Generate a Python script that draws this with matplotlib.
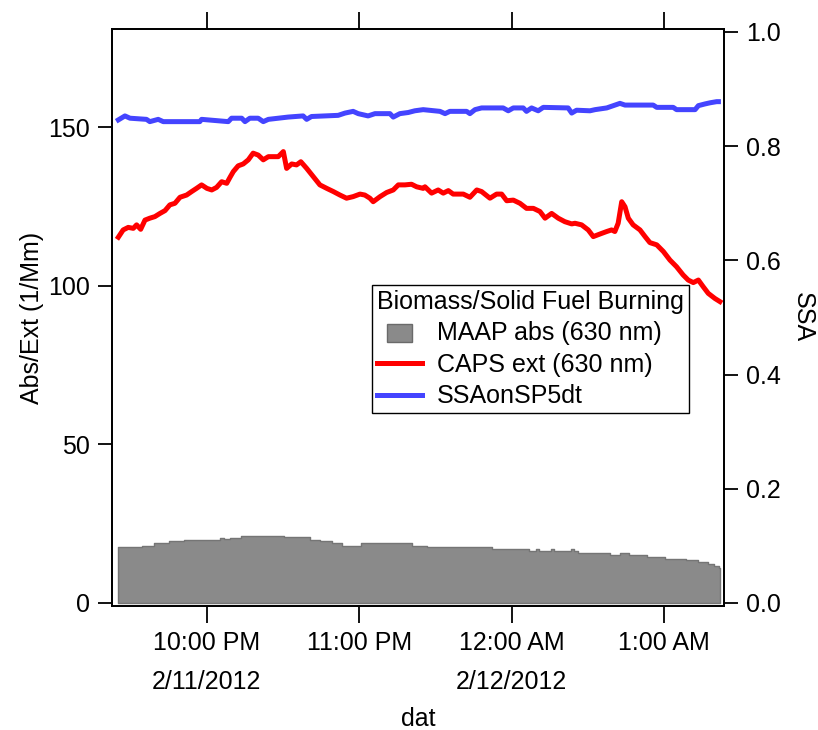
import numpy as np
import pandas as pd
import matplotlib
matplotlib.use('Agg')
import matplotlib.pyplot as plt
from matplotlib.patches import Rectangle, Patch
from matplotlib.lines import Line2D
from matplotlib.legend_handler import HandlerPatch

plt.rcParams['font.family'] = ['Liberation Sans', 'DejaVu Sans']
plt.rcParams['font.size'] = 18

t0 = pd.Timestamp('2012-02-11 21:00')

# MAAP absorption (1/Mm), step data, times in minutes after 9 PM
maap_min = [25.1, 34.4, 39.1, 45.0, 50.9, 65.1, 66.9, 69.0, 73.4, 90.3,
            100.6, 104.5, 109.3, 113.2, 120.7, 140.8, 146.7, 172.3, 186.9, 189.6,
            190.8, 195.5, 196.7, 203.6, 204.8, 206.2, 218.8, 222.7, 226.3, 233.4,
            240.5, 248.7, 253.5, 257.5, 259.8, 261.7, 262.1]
maap_abs = [17.5, 18.1, 18.8, 19.4, 19.9, 20.5, 20.1, 20.5, 21.2, 20.8,
            20.0, 19.4, 18.9, 18.1, 18.9, 18.1, 17.5, 17.0, 16.4, 17.0,
            16.4, 17.0, 16.4, 17.0, 16.4, 15.9, 15.1, 15.9, 15.1, 14.6,
            14.0, 13.4, 12.8, 12.2, 11.5, 10.9, 10.9]

# CAPS extinction (1/Mm)
caps_min = [25.1, 27.0, 29.0, 31.0, 32.3, 33.9, 35.6, 37.5, 39.5, 41.5,
            43.5, 45.4, 47.4, 49.4, 52.0, 54.0, 55.9, 57.9, 60.0, 61.9,
            63.8, 65.8, 67.8, 69.1, 70.4, 72.3, 74.3, 76.3, 78.2, 80.2,
            82.2, 84.2, 85.5, 88.1, 90.1, 91.4, 93.4, 95.3, 97.0, 99.3,
            101.9, 104.5, 107.2, 109.8, 112.4, 115.0, 117.6, 120.3, 122.2, 124.2,
            125.5, 128.2, 130.8, 133.4, 135.4, 138.0, 140.6, 142.6, 145.2, 145.9,
            148.5, 151.1, 153.1, 155.1, 157.0, 161.0, 163.6, 166.3, 168.2, 171.5,
            174.1, 176.1, 178.1, 180.7, 183.3, 185.9, 188.6, 191.2, 193.2, 195.8,
            198.4, 201.0, 203.7, 205.0, 207.6, 210.2, 212.2, 214.8, 217.5, 219.4,
            220.7, 222.0, 223.4, 224.7, 226.0, 227.9, 230.6, 232.6, 234.5, 237.2,
            239.8, 242.4, 245.0, 247.6, 249.6, 251.6, 253.6, 255.5, 257.5, 260.1,
            262.1]
caps_ext = [115.3, 117.6, 118.4, 118.1, 119.2, 117.8, 120.7, 121.3, 121.8, 122.8,
            123.7, 125.5, 126.0, 127.9, 128.6, 129.7, 130.7, 131.8, 130.7, 130.2,
            131.0, 132.8, 132.3, 134.2, 136.0, 137.8, 138.4, 139.7, 141.8, 141.2,
            139.7, 140.7, 140.7, 140.7, 142.3, 137.0, 138.4, 138.1, 139.1, 137.0,
            134.4, 131.8, 130.7, 129.7, 128.6, 127.6, 128.1, 128.9, 128.6, 127.6,
            126.5, 128.1, 129.4, 130.2, 131.8, 131.8, 132.0, 131.2, 130.7, 131.2,
            129.2, 130.2, 129.2, 130.0, 128.9, 128.9, 127.9, 130.2, 129.7, 127.6,
            128.9, 128.9, 126.8, 127.0, 126.0, 124.4, 124.4, 123.4, 121.3, 122.8,
            121.3, 120.2, 119.5, 119.7, 119.2, 117.6, 115.5, 116.3, 117.1, 117.6,
            117.1, 119.7, 126.5, 124.9, 121.3, 119.2, 117.6, 115.5, 113.6, 112.9,
            110.8, 108.1, 106.0, 103.4, 101.8, 101.0, 101.8, 99.7, 97.6, 96.0,
            95.0]

# single scattering albedo (right axis)
ssa_min = [25.1, 27.7, 29.7, 36.2, 37.5, 40.8, 42.8, 57.2, 57.9, 68.4,
           69.7, 73.7, 75.0, 76.9, 80.2, 82.2, 84.2, 88.1, 92.0, 97.9,
           99.3, 101.2, 111.7, 114.4, 117.6, 119.6, 123.5, 126.2, 132.1, 133.4,
           136.0, 139.3, 141.9, 145.2, 151.8, 153.8, 155.7, 162.3, 163.6, 165.6,
           168.2, 176.7, 178.7, 180.7, 184.6, 185.9, 187.9, 190.5, 192.5, 202.3,
           203.7, 205.6, 210.9, 212.9, 217.5, 220.1, 222.7, 224.7, 235.8, 237.2,
           243.7, 245.0, 252.3, 253.6, 256.2, 258.2, 260.8, 261.5]
ssa = [0.846, 0.853, 0.849, 0.847, 0.843, 0.847, 0.843, 0.843, 0.847, 0.843,
       0.849, 0.849, 0.843, 0.849, 0.849, 0.843, 0.847, 0.849, 0.851, 0.853,
       0.847, 0.852, 0.854, 0.858, 0.861, 0.857, 0.853, 0.857, 0.857, 0.851,
       0.857, 0.859, 0.862, 0.864, 0.861, 0.857, 0.861, 0.861, 0.857, 0.864,
       0.867, 0.867, 0.862, 0.867, 0.867, 0.861, 0.867, 0.862, 0.868, 0.867,
       0.858, 0.863, 0.862, 0.864, 0.867, 0.871, 0.875, 0.872, 0.872, 0.868,
       0.868, 0.864, 0.864, 0.871, 0.874, 0.876, 0.878, 0.878]

tick_times = ['2012-02-11 22:00', '2012-02-11 23:00', '2012-02-12 00:00', '2012-02-12 01:00']
tick_labels = ['10:00 PM\n2/11/2012', '11:00 PM', '12:00 AM\n2/12/2012', '1:00 AM']


def to_time(m):
    return t0 + pd.to_timedelta(np.array(m), unit='m')


fig = plt.figure(figsize=(8.18, 7.30), dpi=100)
ax = fig.add_axes([0.1369, 0.1699, 0.7482, 0.7904])
ax2 = ax.twinx()

gray = '#8a8a8a'
ax.fill_between(to_time(maap_min), 0, maap_abs, step='post',
                facecolor=gray, edgecolor='#757575', linewidth=1)
ax.plot(to_time(caps_min), caps_ext, color='#ff0000', lw=3.6)
ax2.plot(to_time(ssa_min), ssa, color='#4444ff', lw=3.6)

ax.set_xlim(to_time([22.6])[0], to_time([263.7])[0])
ax.set_ylim(-0.95, 180.95)
ax2.set_ylim(-0.95 / 180, 180.95 / 180)

ax.set_yticks([0, 50, 100, 150])
ax2.set_yticks([0.0, 0.2, 0.4, 0.6, 0.8, 1.0])
ax2.set_yticklabels(['%.1f' % v for v in [0.0, 0.2, 0.4, 0.6, 0.8, 1.0]])
ax.set_xticks(pd.to_datetime(tick_times))
ax.set_xticklabels(tick_labels, linespacing=1.8)

for a in (ax, ax2):
    for s in a.spines.values():
        s.set_linewidth(1.3)
ax.tick_params(axis='x', direction='out', length=12, width=1.3, pad=6, top=True, labeltop=False)
ax.tick_params(axis='y', direction='out', length=10, width=1.3, pad=6)
ax2.tick_params(axis='y', direction='out', length=10, width=1.3, pad=6)

ax.set_xlabel('dat', labelpad=9)
ax.set_ylabel('Abs/Ext (1/Mm)', labelpad=3)
ax2.set_ylabel('SSA', rotation=-90, va='bottom', labelpad=7)


def rect_handle(legend, orig_handle, xdescent, ydescent, width, height, fontsize):
    w, h = 18, 13
    return Rectangle((xdescent + (width - w) / 2, ydescent + (height - h) / 2 - 1), w, h)


handles = [Patch(facecolor=gray, edgecolor='#6a6a6a', linewidth=1),
           Line2D([], [], color='#ff0000', lw=3.6),
           Line2D([], [], color='#4444ff', lw=3.6)]
labels = ['MAAP abs (630 nm)', 'CAPS ext (630 nm)', 'SSAonSP5dt']
leg = ax2.legend(handles, labels, title='Biomass/Solid Fuel Burning', title_fontsize=18,
                 loc='upper left', bbox_to_anchor=(0.4248, 0.5563), borderaxespad=0,
                 fancybox=False, framealpha=1, edgecolor='black', alignment='left',
                 handlelength=1.8, handletextpad=0.6, labelspacing=0.3, borderpad=0.2,
                 handler_map={Patch: HandlerPatch(patch_func=rect_handle)})
leg.get_frame().set_linewidth(1.0)

fig.savefig('out.png', dpi=100)
